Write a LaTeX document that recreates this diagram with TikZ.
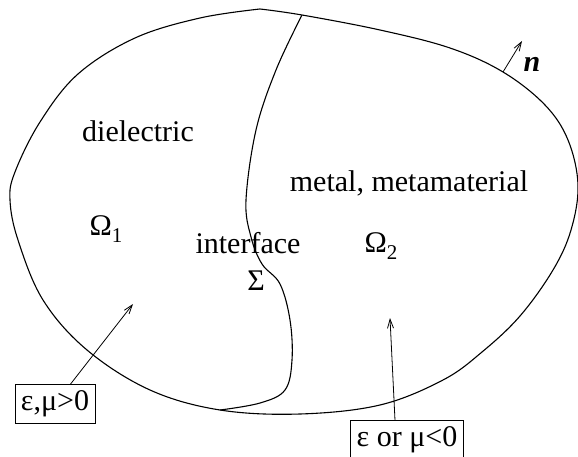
\documentclass[tikz,border=0pt]{standalone}
\usepackage{fontspec}
\setmainfont{Liberation Serif}
\usetikzlibrary{arrows.meta}
\begin{document}
\begin{tikzpicture}[x=1pt, y=-1pt, line width=1.1pt,
  lbl/.style={font=\fontsize{30}{35}\selectfont, inner sep=0pt},
  tag/.style={draw, line width=0.8pt, font=\fontsize{30}{35}\selectfont, inner sep=6pt},
  >={Straight Barb[length=9pt, width=6pt]}]
  \useasboundingbox (0,0) rectangle (578,457);
  % outer boundary
  \draw plot[smooth, tension=0.6] coordinates {(260,9) (302,15) (380,30) (450,48)
    (503,72) (545,105) (568,140) (578,185) (571,230) (553,270) (520,316) (482,352)
    (443,380) (380,405) (300,414) (220,410) (150,390) (87,350) (43,300) (18,240)
    (10,200) (15,172) (40,122) (78,74) (135,38) (200,18) (260,9)};
  % interface
  \draw plot[smooth, tension=0.6] coordinates {(302,15) (276,70) (256,130) (246,200)
    (251,237) (262,264) (280,284) (290,320) (292,360) (285,390) (260,403) (220,410)};
  % labels
  \node[lbl, anchor=base] (diel) at (138,142) {dielectric};
  \node[lbl, anchor=base] (metal) at (409,192) {metal, metamaterial};
  \node[lbl, anchor=base west] (om1) at (89,235) {Ω\raisebox{-0.25em}{\fontsize{21}{21}\selectfont 1}};
  \node[lbl, anchor=base west] (om2) at (364,252) {Ω\raisebox{-0.25em}{\fontsize{21}{21}\selectfont 2}};
  \node[lbl, anchor=base] (intf) at (248,253) {interface};
  \node[lbl, anchor=base] (sig) at (256,290) {Σ};
  \node[lbl, anchor=base west] (nvec) at (523,72) {\textbf{\textit{n}}};
  % tags
  \node[tag] (pos) at (55,404) {ε,μ>0};
  \node[tag] (neg) at (407,440) {ε or μ<0};
  \coordinate (tip1) at (133,304);
  \coordinate (tip2) at (390,318);
  \coordinate (nfoot) at (503,72);
  \coordinate (nhead) at (522,41);
  \draw[->, line width=0.8pt] (pos) -- (tip1);
  \draw[->, line width=0.8pt] ([xshift=-12pt]neg.north) -- (tip2);
  \draw[->, line width=0.8pt] (nfoot) -- (nhead);
\end{tikzpicture}
\end{document}
